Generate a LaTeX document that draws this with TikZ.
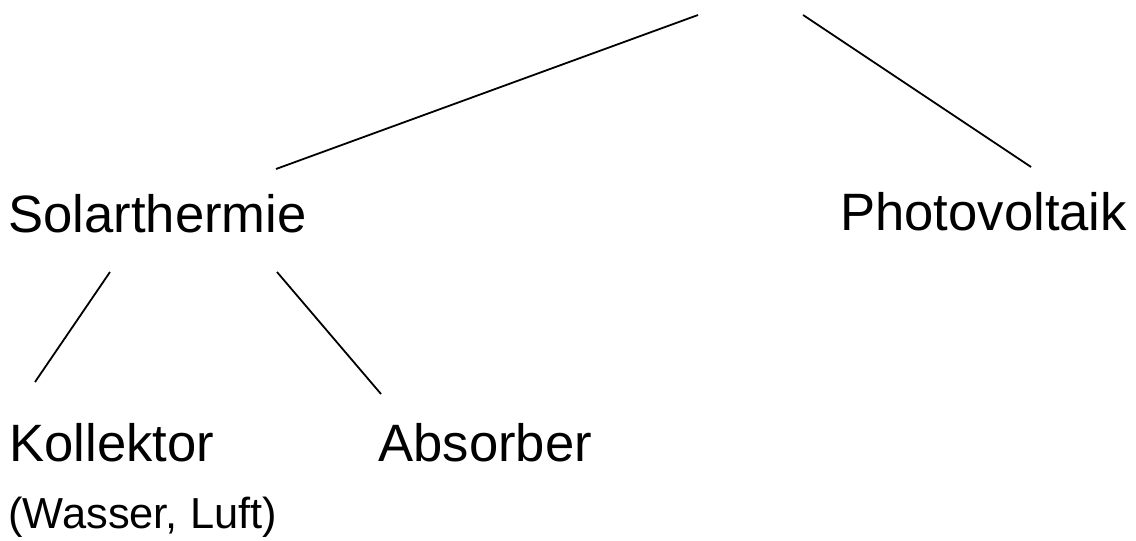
\documentclass[tikz,border=0pt]{standalone}
\usepackage{fontspec}
\setmainfont{Liberation Sans}
\begin{document}
\begin{tikzpicture}[x=0.5pt,y=-0.5pt,
  lbl/.style={anchor=base west,inner sep=0pt,font=\fontsize{26.3}{30}\selectfont},
  sublbl/.style={anchor=base west,inner sep=0pt,font=\fontsize{21.7}{25}\selectfont},
  conn/.style={line width=0.9pt,black}]
\useasboundingbox (0,0) rectangle (1136,541);
\node[lbl] (solar) at (8,232) {Solarthermie};
\node[lbl] (photo) at (840,230) {Photovoltaik};
\node[lbl] (koll) at (9,461) {Kollektor};
\node[lbl] (abs) at (378,461) {Absorber};
\node[sublbl] (wl) at (8,528) {(Wasser, Luft)};
\coordinate (t1) at (698,15);
\coordinate (t2) at (803,15);
\coordinate (s1) at (276,169);
\coordinate (p1) at (1031,167);
\coordinate (sa) at (110,272);
\coordinate (sb) at (277,272);
\coordinate (k1) at (35,382);
\coordinate (a1) at (381,394);
\draw[conn] (t1) -- (s1);
\draw[conn] (t2) -- (p1);
\draw[conn] (sa) -- (k1);
\draw[conn] (sb) -- (a1);
\end{tikzpicture}
\end{document}
